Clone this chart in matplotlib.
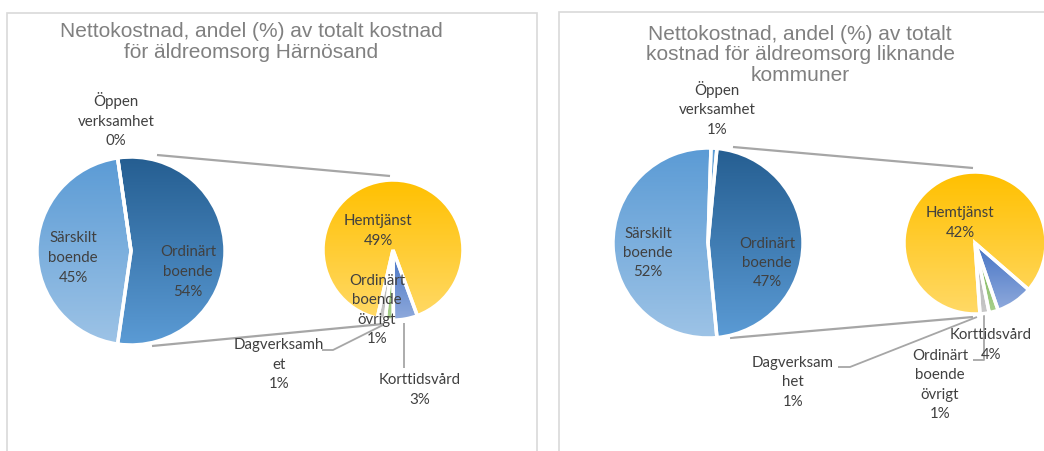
import numpy as np
import matplotlib.pyplot as plt
from matplotlib.colors import to_rgb
from matplotlib.patches import Rectangle

W, H = 1044, 451

# ---- data ----
main_names = ['Ordinärt\nboende', 'Öppen\nverksamhet', 'Särskilt\nboende']
harnosand_main = [54, 0, 45]
liknande_main = [47, 1, 52]

sub_names_left = ['Dagverksamh\net', 'Ordinärt\nboende\növrigt', 'Korttidsvård', 'Hemtjänst']
sub_names_right = ['Dagverksam\nhet', 'Ordinärt\nboende\növrigt', 'Korttidsvård', 'Hemtjänst']
harnosand_sub = [1, 1, 3, 49]
liknande_sub = [1, 1, 4, 42]

titles = ['Nettokostnad, andel (%) av totalt kostnad\nför äldreomsorg Härnösand',
          'Nettokostnad, andel (%) av totalt\nkostnad för äldreomsorg liknande\nkommuner']

# gradients (top, bottom)
main_grad = [('#255E91', '#5B9BD5'), ('#5B9BD5', '#9DC3E6'), ('#5B9BD5', '#9DC3E6')]
sub_grad = [('#A5A5A5', '#C9C9C9'), ('#70AD47', '#A9D18E'),
            ('#4472C4', '#8FAADC'), ('#FFC000', '#FFD966')]

LINE = '#A6A6A6'
TXT = '#404040'

plt.rcParams['font.family'] = ['Lato', 'DejaVu Sans']

fig = plt.figure(figsize=(W / 100, H / 100), dpi=100)
ax = fig.add_axes([0, 0, 1, 1])


def Y(y):
    return H - y


def fill_gradient(w, top, bottom):
    w.set_facecolor('none')
    w.set_zorder(3)
    bb = w.get_path().get_extents()
    if bb.width < 0.5:
        return
    t = np.linspace(0, 1, 200)[:, None]
    img = (np.array(to_rgb(top)) * (1 - t) + np.array(to_rgb(bottom)) * t)[:, None, :]
    im = ax.imshow(img, extent=[bb.x0, bb.x1, bb.y0, bb.y1], aspect='auto',
                   origin='upper', zorder=2, interpolation='bilinear')
    im.set_clip_path(w)


def pie_of_pie(main_vals, sub_vals, main_c, main_r, sub_c, sub_r, sub_start):
    frac = main_vals[0] / sum(main_vals)
    w1, _ = ax.pie(main_vals, center=(main_c[0], Y(main_c[1])), radius=main_r,
                   startangle=-frac * 180, counterclock=True,
                   explode=[0.02, 0, 0],
                   wedgeprops=dict(edgecolor='white', linewidth=2.5), frame=True)
    for w, (a, b) in zip(w1, main_grad):
        fill_gradient(w, a, b)
    w2, _ = ax.pie(sub_vals, center=(sub_c[0], Y(sub_c[1])), radius=sub_r,
                   startangle=sub_start, counterclock=True,
                   explode=[0.1, 0.1, 0.1, 0],
                   wedgeprops=dict(edgecolor='white', linewidth=2.5), frame=True)
    for w, (a, b) in zip(w2, sub_grad):
        fill_gradient(w, a, b)


def lbl(x, y, s, **kw):
    ax.text(x, Y(y), s, ha='center', va='center', color=TXT, fontsize=10.8,
            linespacing=1.5, zorder=5, **kw)


def seg(xs, ys, lw=1.3):
    ax.plot(xs, [Y(v) for v in ys], color=LINE, lw=lw, zorder=1,
            solid_capstyle='butt')


# panel frames
ax.add_patch(Rectangle((7, Y(470)), 530, 457, fill=False, ec='#D9D9D9', lw=1.2))
ax.add_patch(Rectangle((559, Y(470)), 520, 458, fill=False, ec='#D9D9D9', lw=1.2))

# ---- left: Härnösand ----
pie_of_pie(harnosand_main, harnosand_sub, (131, 251), 94, (393, 250), 70, -103)
seg([157, 390], [155, 176], 1.6)
seg([152, 383], [346, 324], 1.6)
seg([322, 333, 383], [350, 350, 325])
seg([404, 404], [323, 368])
ax.text(251, Y(42), titles[0], ha='center', va='center', color='#808080',
        fontsize=15, family='Liberation Sans', linespacing=1.13)
lbl(73, 258, f'{main_names[2]}\n{harnosand_main[2]}%')
lbl(188, 272, f'{main_names[0]}\n{harnosand_main[0]}%')
lbl(116, 120, f'{main_names[1]}\n{harnosand_main[1]}%')
lbl(378, 231, f'{sub_names_left[3]}\n{harnosand_sub[3]}%')
lbl(377, 310, f'{sub_names_left[1]}\n{harnosand_sub[1]}%')
lbl(279, 365, f'{sub_names_left[0]}\n{harnosand_sub[0]}%')
lbl(420, 390, f'{sub_names_left[2]}\n{harnosand_sub[2]}%')

# ---- right: liknande kommuner ----
pie_of_pie(liknande_main, liknande_sub, (708, 243), 95, (975, 243), 71, -86)
seg([733, 973], [147, 168], 1.6)
seg([730, 973], [338, 317], 1.6)
seg([838, 850, 977], [367, 367, 317])
seg([973, 984, 984], [360, 360, 313])
ax.text(800, Y(55), titles[1], ha='center', va='center', color='#808080',
        fontsize=15, family='Liberation Sans', linespacing=1.13)
lbl(648, 253, f'{main_names[2]}\n{liknande_main[2]}%')
lbl(767, 263, f'{main_names[0]}\n{liknande_main[0]}%')
lbl(717, 109, f'{main_names[1]}\n{liknande_main[1]}%')
lbl(960, 223, f'{sub_names_right[3]}\n{liknande_sub[3]}%')
lbl(940, 385, f'{sub_names_right[1]}\n{liknande_sub[1]}%')
lbl(793, 382, f'{sub_names_right[0]}\n{liknande_sub[0]}%')
lbl(991, 345, f'{sub_names_right[2]}\n{liknande_sub[2]}%')

ax.set_xlim(0, W)
ax.set_ylim(0, H)
ax.set_aspect('auto')
ax.axis('off')

fig.savefig('out.png', dpi=100, facecolor='white')
